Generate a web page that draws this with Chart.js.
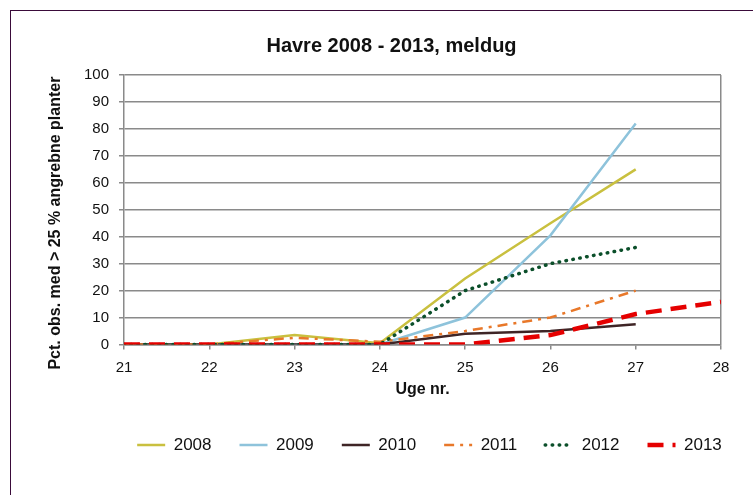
<!DOCTYPE html>
<html>
<head>
<meta charset="utf-8">
<script src="https://cdn.jsdelivr.net/npm/chart.js@4.4.0/dist/chart.umd.min.js"></script>
<style>
    body { margin: 0; background: #fff; overflow: hidden; }
    #frame { position: absolute; left: 10px; top: 10px; width: 800px; height: 600px;
             border-left: 1px solid #3a0b3a; border-top: 1px solid #3a0b3a; }
    #myChart { position: absolute; left: 0; top: 0; }
</style>
</head>
<body>
<div id="frame"></div>
<canvas id="myChart" width="753" height="495"></canvas>
<script>
const weeks = [21, 22, 23, 24, 25, 26, 27, 28];
const years = ['2008', '2009', '2010', '2011', '2012', '2013'];

const v2008 = [0, 0, 3.5, 0.5, 24.5, 45, 65, null];
const v2009 = [0, 0, 0, 0, 10, 40.5, 82, null];
const v2010 = [0, 0, 0, 0, 4, 5, 7.5, null];
const v2011 = [0, 0, 2.5, 1, 5, 10, 20, null];
const v2012 = [0, 0, 0, 0, 20, 30, 36, null];
const v2013 = [0, 0, 0, 0, 0, 3.5, 11.3, 15.8];

const seriesValues = [v2008, v2009, v2010, v2011, v2012, v2013];
const colors = ['#C9C03F', '#8EC3DB', '#3F2526', '#E8782A', '#0B4F2A', '#E50000'];
const widths = [2.5, 2.5, 2.5, 2.5, 3.5, 4.5];
const dashes = [[], [], [], [10, 6, 3, 6], [0.5, 6.5], [16, 9]];
const caps = ['butt', 'butt', 'butt', 'butt', 'round', 'butt'];

const FONT = "'Liberation Sans', Arial, sans-serif";
const GRID = '#8a8a8a';

// title and legend sit off-centre in the original
const shiftBoxes = {
    id: 'shiftBoxes',
    afterLayout(chart) {
        chart.titleBlock.left += 31;
        chart.titleBlock.right += 31;
        chart.legend.left += 69;
        chart.legend.right += 69;
    }
};

document.addEventListener('DOMContentLoaded', () => {
    const datasets = years.map((year, i) => ({
        label: year,
        data: weeks.map((w, j) => ({ x: w, y: seriesValues[i][j] })).filter(p => p.y !== null),
        borderColor: colors[i],
        backgroundColor: colors[i],
        borderWidth: widths[i],
        borderDash: dashes[i],
        borderCapStyle: caps[i],
        pointRadius: 0,
        tension: 0,
        fill: false,
        order: years.length - i
    }));

    const ctx = document.getElementById('myChart').getContext('2d');
    window.chart = new Chart(ctx, {
        type: 'line',
        data: { datasets: datasets },
        plugins: [shiftBoxes],
        options: {
            responsive: false,
            animation: false,
            layout: { padding: { top: 0, left: 0, right: 32, bottom: 31.5 } },
            plugins: {
                title: {
                    display: true,
                    text: 'Havre 2008 - 2013, meldug',
                    color: '#111',
                    font: { family: FONT, size: 20, weight: 'bold' },
                    padding: { top: 34, bottom: 17 }
                },
                legend: {
                    position: 'bottom',
                    labels: {
                        usePointStyle: true,
                        pointStyle: 'line',
                        pointStyleWidth: 28,
                        padding: 28,
                        color: '#111',
                        font: { family: FONT, size: 17 },
                        sort: (a, b) => a.datasetIndex - b.datasetIndex,
                        generateLabels: chart => Chart.defaults.plugins.legend.labels.generateLabels(chart)
                            .map(item => Object.assign(item, {
                                lineDash: dashes[item.datasetIndex],
                                lineCap: caps[item.datasetIndex],
                                lineWidth: widths[item.datasetIndex]
                            }))
                    }
                },
                tooltip: { enabled: false }
            },
            scales: {
                x: {
                    type: 'linear',
                    min: 21,
                    max: 28,
                    ticks: { stepSize: 1, padding: 9, color: '#111', font: { family: FONT, size: 15 } },
                    grid: {
                        color: c => (c.tick && c.tick.value === 28 ? GRID : 'rgba(0,0,0,0)'),
                        tickColor: GRID,
                        tickLength: 5,
                        lineWidth: 1.5
                    },
                    border: { color: GRID, width: 1.5 },
                    title: {
                        display: true,
                        text: 'Uge nr.',
                        color: '#111',
                        font: { family: FONT, size: 16, weight: 'bold' },
                        padding: { top: 0, bottom: 9 }
                    },
                    afterFit: scale => { scale.height = 64; }
                },
                y: {
                    min: 0,
                    max: 100,
                    ticks: { stepSize: 10, padding: 10, color: '#111', font: { family: FONT, size: 15 } },
                    grid: { color: GRID, tickColor: GRID, tickLength: 5, lineWidth: 1.5 },
                    border: { color: GRID, width: 1.5 },
                    title: {
                        display: true,
                        text: 'Pct. obs. med > 25 % angrebne planter      ',
                        color: '#111',
                        font: { family: FONT, size: 16, weight: 'bold' },
                        padding: { top: 46, bottom: 0 }
                    },
                    afterFit: scale => { scale.width = 124; }
                }
            }
        }
    });
});
</script>
</body>
</html>
